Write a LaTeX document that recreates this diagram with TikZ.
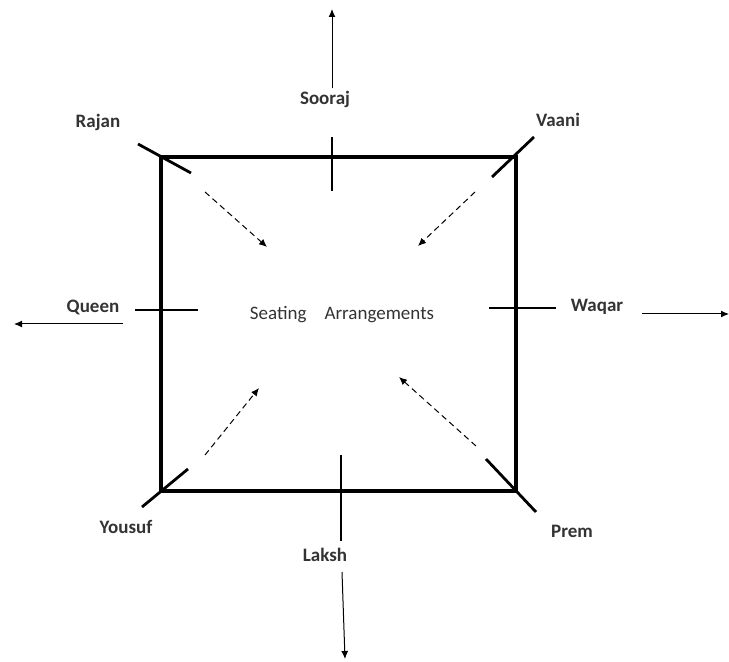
\documentclass[tikz,border=0pt]{standalone}
\usepackage{fontspec}
\setmainfont{Carlito}
\usetikzlibrary{arrows.meta}

\begin{document}
\begin{tikzpicture}[x=0.5pt,y=-0.5pt,
    seat/.style={font=\bfseries\fontsize{9.5}{11}\selectfont, text=black!80, inner sep=1pt},
    away/.style={-{Latex[length=4pt,width=3.5pt]}, line width=0.5pt},
    inward/.style={-{Latex[length=4pt,width=3.5pt]}, line width=0.5pt, densely dashed},
    tick/.style={line width=1.4pt}]

        \useasboundingbox (0,0) rectangle (729,662);

        % the table
        \coordinate (nw) at (161,157);
        \coordinate (se) at (516,491);
        \draw[line width=1.7pt] (nw) rectangle (se);
        \node[font=\fontsize{9.5}{11}\selectfont, text=black!80] (title) at (342,315) {Seating\hspace{9pt}Arrangements};

        % seats
        \node[seat] (sooraj) at (325,99) {Sooraj};
        \node[seat] (rajan) at (98,122) {Rajan};
        \node[seat] (vaani) at (558,120) {Vaani};
        \node[seat] (queen) at (93,307) {Queen};
        \node[seat] (waqar) at (597,307) {Waqar};
        \node[seat] (yousuf) at (126,527) {Yousuf};
        \node[seat] (prem) at (572,531) {Prem};
        \node[seat] (laksh) at (325,555) {Laksh};

        % ticks on the table
        \draw[tick, line width=1pt] (332,137) -- (332,191);
        \draw[tick] (341,455) -- (341,541);
        \draw[tick] (135,310) -- (198,310);
        \draw[tick, line width=1pt] (489,308) -- (556,308);
        \draw[tick] (138,144) -- (191,173);
        \draw[tick] (534,137) -- (492,177);
        \draw[tick] (142,507) -- (188,469);
        \draw[tick] (486,459) -- (536,512);

        % facing outwards
        \coordinate (sooraj-out) at (332,9);
        \coordinate (queen-out) at (14,324);
        \coordinate (waqar-out) at (729,314);
        \coordinate (laksh-out) at (345,659);
        \draw[away] (sooraj.north -| sooraj-out) -- (sooraj-out);
        \draw[away] (123,324) -- (queen-out);
        \draw[away] (642,314) -- (waqar-out);
        \draw[away] (342,572) -- (laksh-out);

        % facing inwards
        \coordinate (rajan-in) at (267,247);
        \coordinate (vaani-in) at (418,246);
        \coordinate (yousuf-in) at (259,388);
        \coordinate (prem-in) at (399,377);
        \draw[inward] (205,192) -- (rajan-in);
        \draw[inward] (475,192) -- (vaani-in);
        \draw[inward] (205,455) -- (yousuf-in);
        \draw[inward] (476,446) -- (prem-in);

\end{tikzpicture}
\end{document}
